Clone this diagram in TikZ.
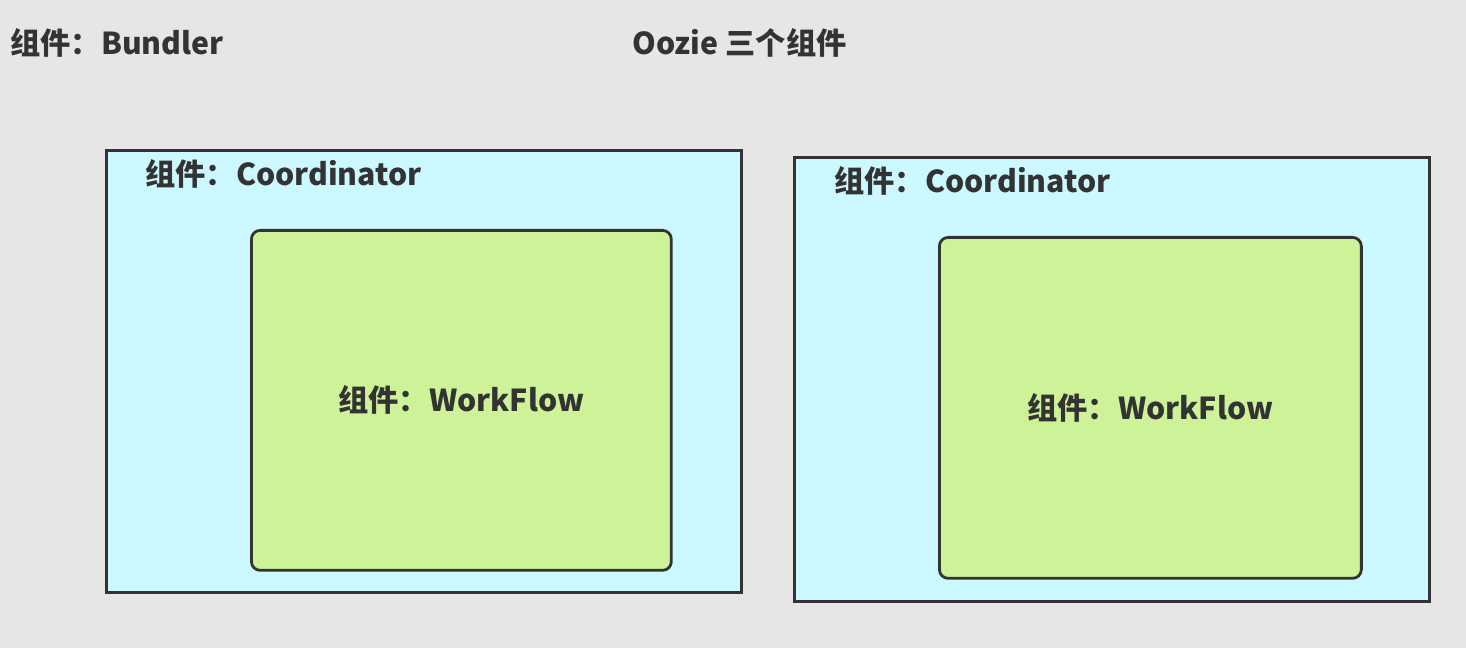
\documentclass[tikz,border=0pt]{standalone}
\usepackage{fontspec}
\setmainfont{Noto Sans CJK SC}
\usepackage{tikz}
\usetikzlibrary{positioning}
\definecolor{bggray}{RGB}{230,230,230}
\definecolor{coordcyan}{RGB}{204,249,255}
\definecolor{flowgreen}{RGB}{205,242,152}
\definecolor{edgegray}{RGB}{51,51,51}
\definecolor{txtgray}{RGB}{51,51,51}

\begin{document}
\begin{tikzpicture}[x=0.02cm, y=-0.02cm,
    outerbox/.style={rectangle, draw=edgegray, fill=coordcyan, line width=1.6pt, anchor=north west, inner sep=0pt},
    innerbox/.style={rectangle, draw=edgegray, fill=flowgreen, line width=1.6pt, rounded corners=5pt, anchor=north west, inner sep=0pt},
    label/.style={font=\fontsize{17.2}{20}\selectfont\bfseries, text=txtgray, inner sep=0pt}]

% background
\fill [bggray] (0,0) rectangle (1466,648);

% titles
\node [label, anchor=west] (bundler) at (10,43) {组件：Bundler};
\node [label, anchor=west] (title) at (632,43) {Oozie 三个组件};

% left coordinator
\node [outerbox, minimum width=12.7cm, minimum height=8.84cm] (coordL) at (105,149) {};
\node [label, anchor=west] (coordLlabel) at (145,174) {组件：Coordinator};
\node [innerbox, minimum width=8.4cm, minimum height=6.8cm] (flowL) at (250,229) {};
\node [label] (flowLlabel) at (flowL.center) {组件：WorkFlow};

% right coordinator
\node [outerbox, minimum width=12.7cm, minimum height=8.88cm] (coordR) at (793,156) {};
\node [label, anchor=west] (coordRlabel) at (834,181) {组件：Coordinator};
\node [innerbox, minimum width=8.44cm, minimum height=6.82cm] (flowR) at (938,236) {};
\node [label] (flowRlabel) at (flowR.center) {组件：WorkFlow};

\end{tikzpicture}
\end{document}
